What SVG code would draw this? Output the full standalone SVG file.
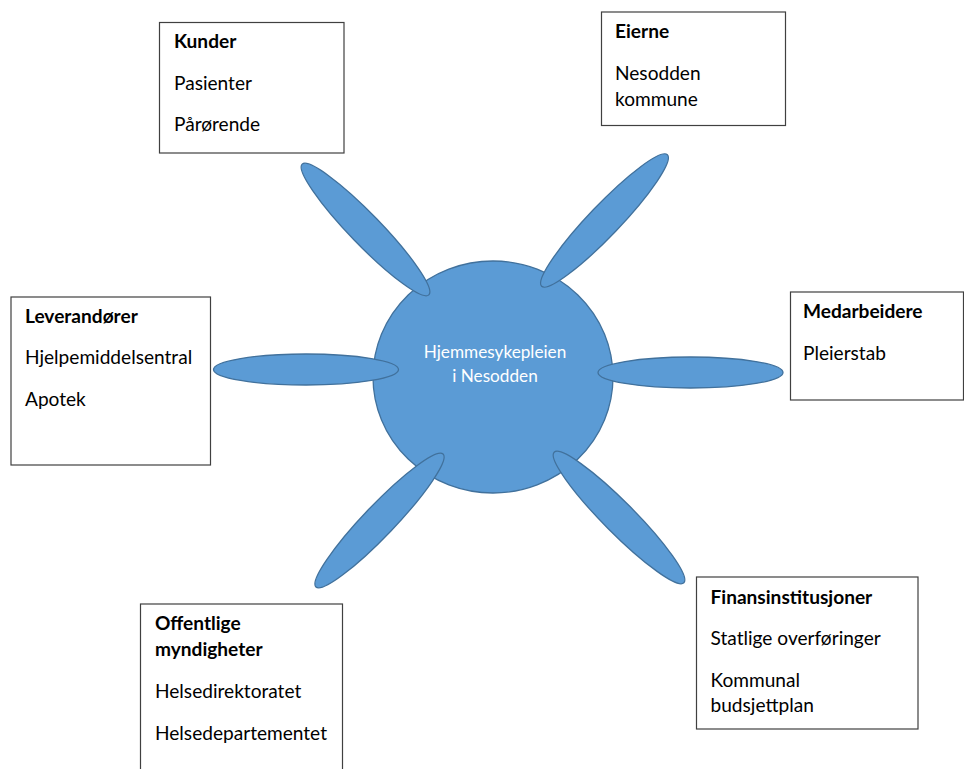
<svg xmlns="http://www.w3.org/2000/svg" width="964" height="769" viewBox="0 0 964 769">
<style>
.box{fill:#ffffff;stroke:#404040;stroke-width:1.2}
.t{font-family:Lato,"Liberation Sans",sans-serif;font-size:19.1px;fill:#000000}
.b{font-weight:bold}
.hub{fill:#5b9bd5;stroke:#41719c;stroke-width:1.3}
.ct{font-family:Lato,"Liberation Sans",sans-serif;font-size:17.2px;fill:#ffffff;text-anchor:middle}
</style>
<rect width="964" height="769" fill="#ffffff"/>
<g id="hub">
<ellipse class="hub" cx="493" cy="377" rx="120" ry="116"/>
<text class="ct" x="495" y="357.5">Hjemmesykepleien</text>
<text class="ct" x="495" y="381.5">i Nesodden</text>
</g>
<g id="connectors">
<ellipse class="hub" cx="306" cy="369.5" rx="92.5" ry="15.5"/>
<ellipse class="hub" cx="690.5" cy="372.5" rx="92.5" ry="15.5"/>
<ellipse class="hub" cx="365.5" cy="229.5" rx="91" ry="15.5" transform="rotate(45.9 365.5 229.5)"/>
<ellipse class="hub" cx="604.5" cy="220.5" rx="91" ry="15.5" transform="rotate(-46.3 604.5 220.5)"/>
<ellipse class="hub" cx="379.5" cy="520.5" rx="92" ry="15.5" transform="rotate(-46.3 379.5 520.5)"/>
<ellipse class="hub" cx="619" cy="517.5" rx="92" ry="15.5" transform="rotate(45.2 619 517.5)"/>
</g>
<g id="kunder">
<rect class="box" x="159.5" y="22.5" width="184.5" height="130.5"/>
<text class="t b" x="174" y="47.5">Kunder</text>
<text class="t" x="174" y="89.5">Pasienter</text>
<text class="t" x="174" y="130.5">Pårørende</text>
</g>
<g id="eierne">
<rect class="box" x="601.5" y="12" width="184" height="113.5"/>
<text class="t b" x="615" y="37.5">Eierne</text>
<text class="t" x="615" y="79.5">Nesodden</text>
<text class="t" x="615" y="105.5">kommune</text>
</g>
<g id="medarbeidere">
<rect class="box" x="790.5" y="292" width="173" height="108"/>
<text class="t b" x="803" y="317.5">Medarbeidere</text>
<text class="t" x="803" y="359.5">Pleierstab</text>
</g>
<g id="leverandorer">
<rect class="box" x="11" y="297" width="199.5" height="168"/>
<text class="t b" x="25" y="322.5">Leverandører</text>
<text class="t" x="25" y="363.5">Hjelpemiddelsentral</text>
<text class="t" x="25" y="405.5">Apotek</text>
</g>
<g id="offentlige">
<rect class="box" x="140.5" y="604" width="202" height="175"/>
<text class="t b" x="155" y="629.5">Offentlige</text>
<text class="t b" x="155" y="655.5">myndigheter</text>
<text class="t" x="155" y="697.5">Helsedirektoratet</text>
<text class="t" x="155" y="739.5">Helsedepartementet</text>
</g>
<g id="finans">
<rect class="box" x="696.5" y="577" width="221.5" height="152"/>
<text class="t b" x="710.5" y="603.5">Finansinstitusjoner</text>
<text class="t" x="710.5" y="644.5">Statlige overføringer</text>
<text class="t" x="710.5" y="686.5">Kommunal</text>
<text class="t" x="710.5" y="711.5">budsjettplan</text>
</g>
</svg>
